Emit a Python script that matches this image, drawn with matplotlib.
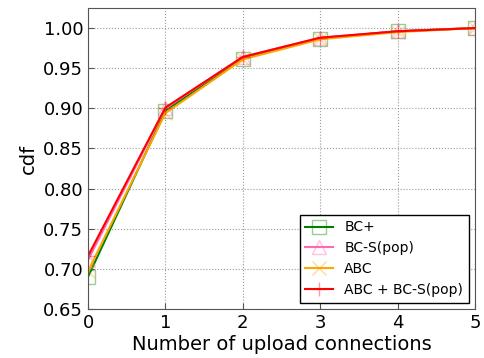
import matplotlib
matplotlib.use('Agg')
import matplotlib.pyplot as plt
import numpy as np

# data
x = [0, 1, 2, 3, 4, 5]
bc_plus = [0.690, 0.897, 0.962, 0.987, 0.996, 1.000]
bc_s_pop = [0.711, 0.900, 0.964, 0.988, 0.996, 1.000]
abc = [0.697, 0.894, 0.961, 0.986, 0.995, 1.000]
abc_bcs = [0.716, 0.901, 0.964, 0.988, 0.996, 1.000]
labels = ['BC+', 'BC-S(pop)', 'ABC', 'ABC + BC-S(pop)']

fig = plt.figure(figsize=(4.84, 3.58), dpi=100)
ax = fig.add_axes([88/484, 1-309/358, (475-88)/484, (309-8)/358])

series = [bc_plus, bc_s_pop, abc, abc_bcs]
colors = ['green', 'hotpink', 'orange', 'red']
markers = ['s', '^', 'x', '+']
for ys, c, m, lab in zip(series, colors, markers, labels):
    ax.plot(x, ys, color=c, lw=1.5, marker=m, markersize=10,
            markerfacecolor='none', markeredgecolor=matplotlib.colors.to_rgba(c, 0.4),
            markeredgewidth=1.0, label=lab)

ax.set_xlim(0, 5)
ax.set_ylim(0.65, 1.025)
ax.set_yticks(np.arange(0.65, 1.001, 0.05))
ax.set_xticks(range(6))
ax.grid(True, color='gray', linestyle=':', linewidth=0.8, alpha=0.8)
for s in ax.spines.values():
    s.set_color('#555555')
ax.tick_params(labelsize=13, direction='in', length=4, color='#555555')
ax.set_xlabel('Number of upload connections', fontsize=14, labelpad=2)
ax.set_ylabel('cdf', fontsize=14, labelpad=4)
leg = ax.legend(loc='lower right', fontsize=10, fancybox=False, framealpha=1,
                edgecolor='black', borderaxespad=0.45)
leg.get_frame().set_linewidth(1.0)

plt.savefig('out.png', dpi=100)
plt.close()
